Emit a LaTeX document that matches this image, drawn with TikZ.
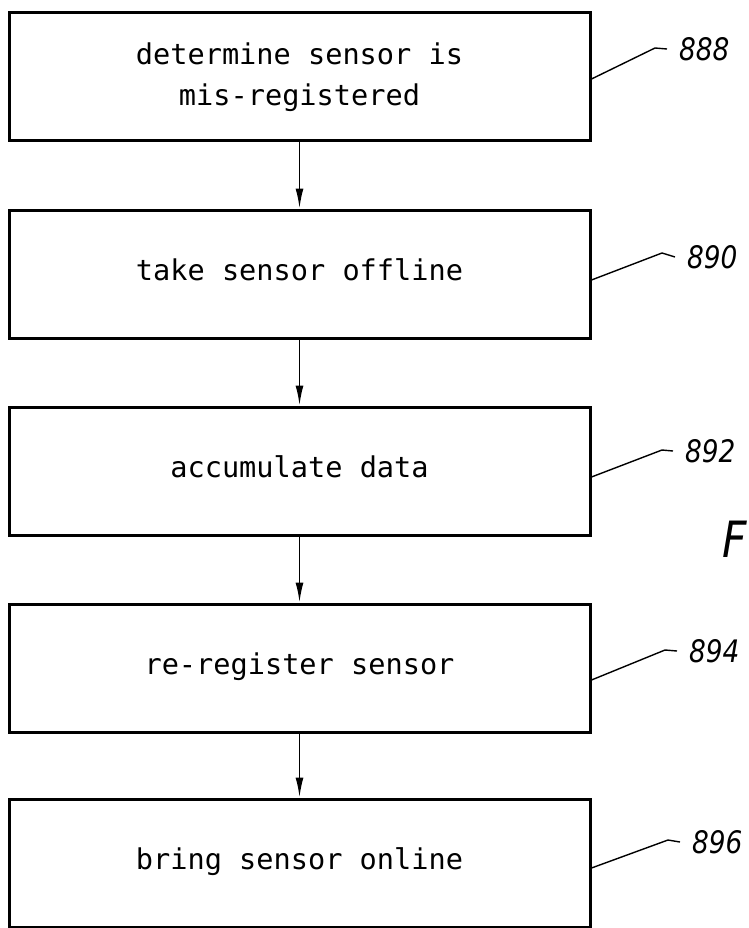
\documentclass[tikz,border=0pt]{standalone}
\usepackage{fontspec}
\usetikzlibrary{arrows.meta}
\newfontfamily\boxfont{DejaVu Sans Mono}
\newfontfamily\labfont{DejaVu Sans}[FakeStretch=0.85]

\tikzset{
  stepbox/.style={draw, line width=3pt, minimum width=581pt, minimum height=128pt,
    inner sep=0pt, font=\boxfont\fontsize{28.6}{41}\selectfont, align=center},
  oneline/.style={text height=22pt, text depth=10pt},
  flow/.style={line width=1.8pt, -{Latex[length=20pt,width=8pt]}},
  leader/.style={line width=1.4pt},
  reflab/.style={anchor=west, inner xsep=12pt, inner ysep=0pt,
    font=\labfont\itshape\fontsize{31}{31}\selectfont}
}

\begin{document}
\begin{tikzpicture}[x=1pt, y=-1pt]
  \useasboundingbox (0,0) rectangle (748,928);
  \clip (0,0) rectangle (748,928);

  % process steps
  \node[stepbox] (b1) at (299.5,77) {determine sensor is\\mis-registered};
  \node[stepbox, oneline] (b2) at (299.5,274) {take sensor offline};
  \node[stepbox, oneline] (b3) at (299.5,471) {accumulate data};
  \node[stepbox, oneline] (b4) at (299.5,668) {re-register sensor};
  \node[stepbox, oneline] (b5) at (299.5,863) {bring sensor online};

  % flow between the steps
  \draw[flow] (b1) -- (b2);
  \draw[flow] (b2) -- (b3);
  \draw[flow] (b3) -- (b4);
  \draw[flow] (b4) -- (b5);

  % reference numerals
  \node[reflab] (l1) at (667,49) {888};
  \node[reflab] (l2) at (675,257) {890};
  \node[reflab] (l3) at (673,451) {892};
  \node[reflab] (l4) at (677,651) {894};
  \node[reflab] (l5) at (680,842) {896};

  % leader lines
  \draw[leader] ([yshift=-2pt]b1.east) -- (655,48) -- (l1.west);
  \draw[leader] ([yshift=-6pt]b2.east) -- (662,253) -- (l2.west);
  \draw[leader] ([yshift=-6pt]b3.east) -- (662,450) -- (l3.west);
  \draw[leader] ([yshift=-12pt]b4.east) -- (665,650) -- (l4.west);
  \draw[leader] ([yshift=-5pt]b5.east) -- (668,840) -- (l5.west);

  % figure caption, running off the edge
  \node[anchor=base west, inner sep=0pt,
        font=\labfont\itshape\fontsize{50}{50}\selectfont] (fig) at (722,557) {F};
\end{tikzpicture}
\end{document}
